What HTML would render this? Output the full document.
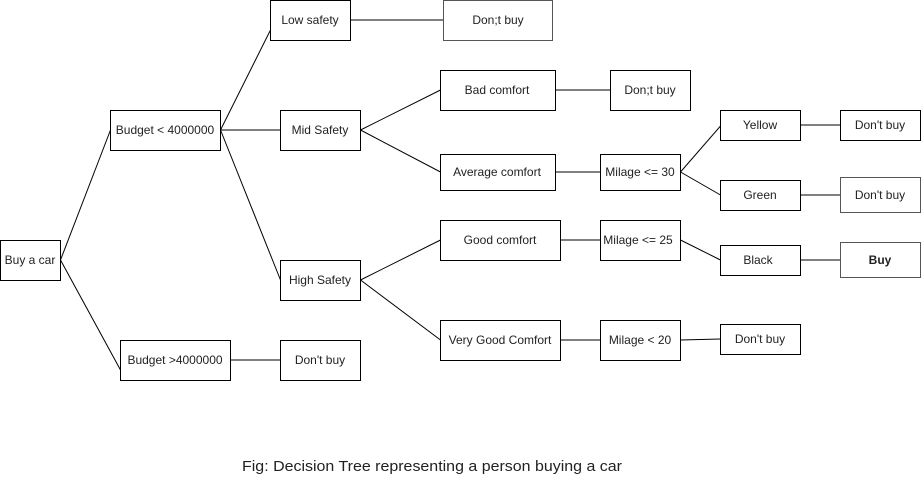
<!DOCTYPE html>
<html><head><meta charset="utf-8"><style>
html,body{margin:0;padding:0;background:#fff;}
svg{display:block;}
text{font-family:"Liberation Sans",Arial,sans-serif;font-size:12px;fill:#222;}
</style></head><body>
<svg width="921" height="491" viewBox="0 0 921 491" xmlns="http://www.w3.org/2000/svg">
<g stroke="#000" stroke-width="1" fill="none">
<line x1="60.5" y1="260" x2="110.5" y2="130"/>
<line x1="60.5" y1="260" x2="120.5" y2="370"/>
<line x1="220.5" y1="130" x2="270.5" y2="30"/>
<line x1="220.5" y1="130" x2="280.5" y2="130"/>
<line x1="220.5" y1="130" x2="280.5" y2="280"/>
<line x1="230.5" y1="360" x2="280.5" y2="360"/>
<line x1="350.5" y1="20" x2="443.5" y2="20"/>
<line x1="360.5" y1="130" x2="440.5" y2="90"/>
<line x1="360.5" y1="130" x2="440.5" y2="172"/>
<line x1="360.5" y1="280" x2="440.5" y2="240"/>
<line x1="360.5" y1="280" x2="440.5" y2="340"/>
<line x1="555.5" y1="90" x2="610.5" y2="90"/>
<line x1="555.5" y1="172" x2="600.5" y2="172"/>
<line x1="560.5" y1="240" x2="600.5" y2="240"/>
<line x1="560.5" y1="340" x2="600.5" y2="340"/>
<line x1="680.5" y1="172" x2="720.5" y2="126"/>
<line x1="680.5" y1="172" x2="720.5" y2="195"/>
<line x1="680.5" y1="240" x2="720.5" y2="260"/>
<line x1="680.5" y1="340" x2="720.5" y2="339"/>
<line x1="800.5" y1="125" x2="840.5" y2="125"/>
<line x1="800.5" y1="195" x2="840.5" y2="195"/>
<line x1="800.5" y1="260" x2="840.5" y2="260"/>
</g>
<g stroke="#000" stroke-width="1" fill="#fff">
<rect x="0.5" y="240.5" width="60" height="40"/>
<rect x="110.5" y="110.5" width="110" height="40"/>
<rect x="120.5" y="340.5" width="110" height="40"/>
<rect x="270.5" y="0.5" width="80" height="40"/>
<rect x="280.5" y="110.5" width="80" height="40"/>
<rect x="280.5" y="260.5" width="80" height="40"/>
<rect x="280.5" y="340.5" width="80" height="40"/>
<rect x="443.5" y="0.5" width="109" height="40" stroke="#555"/>
<rect x="440.5" y="70.5" width="115" height="40"/>
<rect x="610.5" y="70.5" width="80" height="40"/>
<rect x="440.5" y="154.5" width="115" height="36"/>
<rect x="600.5" y="154.5" width="80" height="36"/>
<rect x="720.5" y="110.5" width="80" height="30"/>
<rect x="720.5" y="180.5" width="80" height="30"/>
<rect x="840.5" y="110.5" width="80" height="30"/>
<rect x="840.5" y="177.5" width="80" height="35" stroke="#555"/>
<rect x="440.5" y="220.5" width="120" height="40"/>
<rect x="600.5" y="220.5" width="80" height="40"/>
<rect x="720.5" y="245.5" width="80" height="30"/>
<rect x="840.5" y="242.5" width="80" height="35" stroke="#555"/>
<rect x="440.5" y="320.5" width="120" height="40"/>
<rect x="600.5" y="320.5" width="80" height="40"/>
<rect x="720.5" y="324.5" width="80" height="30"/>
</g>
<g text-anchor="middle">
<text x="30" y="264">Buy a car</text>
<text x="165" y="134">Budget &lt; 4000000</text>
<text x="175" y="364">Budget &gt;4000000</text>
<text x="310" y="24">Low safety</text>
<text x="320" y="134">Mid Safety</text>
<text x="320" y="284">High Safety</text>
<text x="320" y="364">Don't buy</text>
<text x="498" y="24">Don;t buy</text>
<text x="497" y="94">Bad comfort</text>
<text x="650" y="94">Don;t buy</text>
<text x="497" y="176">Average comfort</text>
<text x="640" y="176">Milage &lt;= 30</text>
<text x="760" y="129">Yellow</text>
<text x="760" y="199">Green</text>
<text x="880" y="129">Don't buy</text>
<text x="880" y="199">Don't buy</text>
<text x="500" y="244">Good comfort</text>
<text x="638" y="244">Milage &lt;= 25</text>
<text x="758" y="264">Black</text>
<text x="880" y="264" font-weight="bold">Buy</text>
<text x="500" y="344">Very Good Comfort</text>
<text x="640" y="344">Milage &lt; 20</text>
<text x="760" y="343">Don't buy</text>
<text x="432" y="471" style="font-size:15px" textLength="380" lengthAdjust="spacingAndGlyphs">Fig: Decision Tree representing a person buying a car</text>
</g>
</svg>
</body></html>
